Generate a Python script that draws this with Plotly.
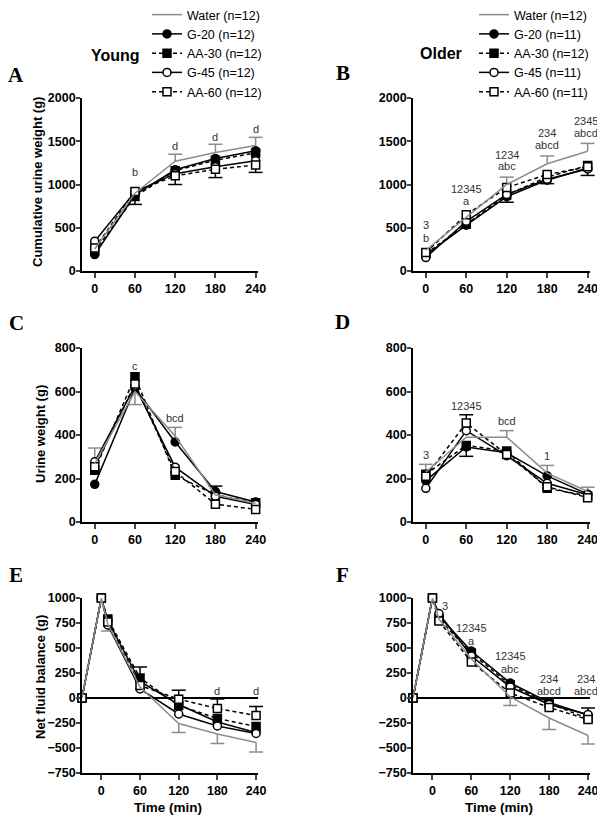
import plotly.graph_objects as go

# the page body keeps its default 8px margin, so the figure sits 8px in
PAGE_W, PAGE_H, BODY = 605, 820, 8
W, H = PAGE_W - BODY, PAGE_H - BODY

# time points (min)
TIME = [0, 60, 120, 180, 240]
TIME_NFB = [-30, 0, 10, 60, 120, 180, 240]

SERIES = ["Water", "G-20", "AA-30", "G-45", "AA-60"]
N_YOUNG = [12, 12, 12, 12, 12]
N_OLDER = [12, 11, 12, 11, 11]

# A - young, cumulative urine weight (g)
A_VALUES = {
    "Water": [255, 900, 1270, 1370, 1450],
    "G-20": [190, 880, 1170, 1300, 1390],
    "AA-30": [230, 860, 1160, 1280, 1365],
    "G-45": [345, 915, 1125, 1205, 1275],
    "AA-60": [265, 920, 1100, 1175, 1225],
}
A_ERR = {  # series: (up, down)
    "Water": ([0, 0, 80, 95, 95], [0, 0, 0, 0, 0]),
    "G-20": ([0, 0, 0, 0, 0], [0, 110, 0, 0, 0]),
    "AA-60": ([0, 0, 0, 0, 0], [0, 0, 100, 95, 85]),
}
A_LABELS = [(60, 1150, "b"), (120, 1440, "d"), (180, 1550, "d"), (240, 1640, "d")]

# B - older, cumulative urine weight (g)
B_VALUES = {
    "Water": [240, 620, 1000, 1240, 1385],
    "G-20": [185, 530, 860, 1050, 1190],
    "AA-30": [200, 540, 880, 1085, 1220],
    "G-45": [155, 575, 885, 1060, 1180],
    "AA-60": [215, 650, 965, 1115, 1205],
}
B_ERR = {
    "Water": ([0, 0, 85, 90, 90], [0, 0, 0, 0, 0]),
    "G-20": ([0, 0, 0, 0, 0], [0, 0, 65, 0, 0]),
    "G-45": ([0, 0, 0, 0, 0], [0, 0, 0, 50, 75]),
}
B_LABELS = [(0, 535, "3"), (0, 378, "b"), (60, 950, "12345"), (60, 805, "a"),
            (120, 1345, "1234"), (120, 1210, "abc"), (180, 1597, "234"),
            (180, 1452, "abcd"), (237, 1737, "2345"), (237, 1595, "abcd")]

# C - young, urine weight (g)
C_VALUES = {
    "Water": [270, 600, 395, 125, 85],
    "G-20": [173, 615, 368, 140, 92],
    "AA-30": [238, 668, 215, 125, 88],
    "G-45": [277, 625, 252, 118, 80],
    "AA-60": [254, 635, 232, 82, 58],
}
C_ERR = {
    "Water": ([70, 0, 40, 0, 0], [0, 60, 0, 0, 0]),
    "G-20": ([0, 0, 0, 25, 0], [0, 0, 0, 0, 0]),
}
C_LABELS = [(60, 719, "c"), (120, 480, "bcd")]

# D - older, urine weight (g)
D_VALUES = {
    "Water": [230, 390, 390, 225, 140],
    "G-20": [190, 345, 318, 212, 128],
    "AA-30": [220, 352, 326, 155, 120],
    "G-45": [155, 420, 305, 178, 125],
    "AA-60": [210, 455, 310, 162, 112],
}
D_ERR = {
    "Water": ([35, 0, 30, 35, 20], [0, 0, 0, 0, 0]),
    "AA-30": ([0, 0, 0, 0, 0], [0, 50, 0, 0, 0]),
    "AA-60": ([0, 38, 0, 0, 0], [0, 0, 0, 0, 0]),
}
D_LABELS = [(0, 308, "3"), (60, 533, "12345"), (120, 463, "bcd"), (180, 305, "1")]

# E - young, net fluid balance (g)
E_VALUES = {
    "Water": [0, 1000, 740, 110, -255, -360, -445],
    "G-20": [0, 1000, 775, 165, -65, -240, -345],
    "AA-30": [0, 1000, 790, 200, -75, -205, -285],
    "G-45": [0, 1000, 730, 90, -160, -280, -355],
    "AA-60": [0, 1000, 760, 125, -12, -105, -175],
}
E_ERR = {
    "Water": ([0, 0, 0, 0, 0, 0, 0], [0, 0, 70, 0, 90, 95, 95]),
    "AA-30": ([0, 0, 0, 110, 0, 0, 0], [0, 0, 0, 0, 0, 0, 0]),
    "AA-60": ([0, 0, 0, 0, 90, 95, 90], [0, 0, 0, 0, 0, 0, 0]),
}
E_LABELS = [(180, 73, "d"), (240, 73, "d")]

# F - older, net fluid balance (g)
F_VALUES = {
    "Water": [0, 1000, 790, 390, 10, -200, -375],
    "G-20": [0, 1000, 820, 470, 150, -45, -170],
    "AA-30": [0, 1000, 790, 450, 130, -55, -205],
    "G-45": [0, 1000, 845, 420, 110, -65, -165],
    "AA-60": [0, 1000, 770, 360, 50, -95, -215],
}
F_ERR = {
    "Water": ([0, 0, 0, 0, 0, 0, 0], [0, 0, 0, 0, 85, 115, 85]),
    "G-45": ([0, 0, 0, 0, 0, 0, 65], [0, 0, 0, 0, 0, 0, 0]),
}
F_LABELS = [(20, 917, "3"), (60, 698, "12345"), (60, 572, "a"),
            (120, 422, "12345"), (120, 290, "abc"), (180, 195, "234"),
            (180, 70, "abcd"), (237, 195, "234"), (237, 70, "abcd")]

FONT = "Liberation Sans, Arial, sans-serif"
SERIF = "Liberation Serif, Times New Roman, serif"
GREY = "#8c8c8c"
DASH = "4px,3px"
STYLE = {
    "Water": dict(color=GREY, dash="solid", symbol=None, fill=None),
    "G-20": dict(color="black", dash="solid", symbol="circle", fill="black"),
    "AA-30": dict(color="black", dash=DASH, symbol="square", fill="black"),
    "G-45": dict(color="black", dash="solid", symbol="circle", fill="white"),
    "AA-60": dict(color="black", dash=DASH, symbol="square", fill="white"),
}

# plot areas in page pixels
COL_X = [(82, 258), (413, 590)]
ROW_Y = [(98, 271), (348, 522), (598, 773)]
URINE_XRANGE = [-19, 243.5]
NFB_XRANGE = [-30, 243]

# (time, values, errors, labels, col, row, yrange, ytick step, legend, n)
PANELS = [
    (TIME, A_VALUES, A_ERR, A_LABELS, 0, 0, [0, 2000], 500, "legend", N_YOUNG),
    (TIME, B_VALUES, B_ERR, B_LABELS, 1, 0, [0, 2000], 500, "legend2", N_OLDER),
    (TIME, C_VALUES, C_ERR, C_LABELS, 0, 1, [0, 800], 200, None, None),
    (TIME, D_VALUES, D_ERR, D_LABELS, 1, 1, [0, 800], 200, None, None),
    (TIME_NFB, E_VALUES, E_ERR, E_LABELS, 0, 2, [-750, 1000], 250, None, None),
    (TIME_NFB, F_VALUES, F_ERR, F_LABELS, 1, 2, [-750, 1000], 250, None, None),
]


def fx(px):
    """page pixel x -> paper fraction"""
    return (px - BODY) / W


def fy(py):
    """page pixel y -> paper fraction"""
    return 1 - (py - BODY) / H


def err_traces(x, y, up, down, color, xr, yr):
    """One-sided error bars drawn as stems + line-ew caps (no cap at the point)"""
    sx, sy, cx, cy = [], [], [], []
    for xi, yi, u, d in zip(x, y, up, down):
        for e in (u, -d):
            if e:
                sx += [xi, xi, None]
                sy += [yi, yi + e, None]
                cx.append(xi)
                cy.append(yi + e)
    stems = go.Scatter(x=sx, y=sy, mode="lines", xaxis=xr, yaxis=yr,
                       line=dict(color=color, width=1.5), showlegend=False,
                       hoverinfo="skip", cliponaxis=False)
    caps = go.Scatter(x=cx, y=cy, mode="markers", xaxis=xr, yaxis=yr,
                      marker=dict(symbol="line-ew", size=10, color=color,
                                  line=dict(color=color, width=1.5)),
                      showlegend=False, hoverinfo="skip", cliponaxis=False)
    return [stems, caps]


fig = go.Figure()
annotations = []
layout = {}

for idx, (t, values, errs, labels, col, row, yrange, step, legend, n) in enumerate(PANELS, start=1):
    suffix = "" if idx == 1 else str(idx)
    xr, yr = "x" + suffix, "y" + suffix

    for name, (up, down) in errs.items():
        fig.add_traces(err_traces(t, values[name], up, down, STYLE[name]["color"], xr, yr))

    # black series first, water on top
    for name in SERIES[1:] + SERIES[:1]:
        st = STYLE[name]
        rank = SERIES.index(name)
        kw = dict(x=t, y=values[name], xaxis=xr, yaxis=yr, cliponaxis=False,
                  line=dict(color=st["color"], width=1.5, dash=st["dash"]),
                  legendrank=rank + 1)
        if st["symbol"]:
            kw["mode"] = "lines+markers"
            kw["marker"] = dict(symbol=st["symbol"], size=8, color=st["fill"],
                                line=dict(color="black", width=1.5))
        else:
            kw["mode"] = "lines"
        if legend:
            kw["name"] = f"{name} (n={n[rank]})"
            kw["legend"] = legend
            kw["showlegend"] = True
        else:
            kw["showlegend"] = False
        fig.add_trace(go.Scatter(**kw))

    x0, x1 = COL_X[col]
    y0, y1 = ROW_Y[row]
    nfb = t is TIME_NFB
    layout["xaxis" + suffix] = dict(
        domain=[fx(x0), fx(x1)], anchor=yr,
        range=NFB_XRANGE if nfb else URINE_XRANGE,
        tickvals=TIME, ticks="outside", ticklen=5, tickwidth=1.5,
        showline=True, linecolor="black", linewidth=1.8,
        showgrid=False, zeroline=False,
        tickfont=dict(family=FONT, size=12.5, color="black", weight="bold"),
    )
    layout["yaxis" + suffix] = dict(
        domain=[fy(y1), fy(y0)], anchor=xr, range=yrange,
        tickvals=list(range(yrange[0], yrange[1] + 1, step)),
        ticks="outside", ticklen=4, tickwidth=1.5, ticklabelstandoff=-2,
        showline=True, linecolor="black", linewidth=1.8,
        showgrid=False, zeroline=nfb, zerolinecolor="black", zerolinewidth=1.5,
        tickfont=dict(family=FONT, size=12.5, color="black", weight="bold"),
    )

    for lx, ly, txt in labels:
        annotations.append(dict(x=lx, y=ly, xref=xr, yref=yr, text=txt, showarrow=False,
                                font=dict(family=FONT, size=11, color="#333333")))


def paper_text(px, py, text, size, family=FONT, angle=0, bold=True):
    return dict(x=fx(px), y=fy(py), xref="paper", yref="paper", text=text,
                showarrow=False, textangle=angle, xanchor="center", yanchor="middle",
                font=dict(family=family, size=size, color="black",
                          weight="bold" if bold else "normal"))


for letter, px, py in [("A", 16, 75), ("B", 343, 73), ("C", 16, 323),
                       ("D", 343, 322), ("E", 16, 575), ("F", 343, 575)]:
    annotations.append(paper_text(px, py, letter, 21, family=SERIF))

annotations += [
    paper_text(115, 55, "Young", 16),
    paper_text(441, 54, "Older", 16),
    paper_text(37, 182, "Cumulative urine weight (g)", 13, angle=-90),
    paper_text(40, 434, "Urine weight (g)", 13, angle=-90),
    paper_text(40, 677, "Net fluid balance (g)", 13, angle=-90),
    paper_text(168, 807, "Time (min)", 13.5),
    paper_text(499, 807, "Time (min)", 13.5),
]

legend_style = dict(yanchor="top", xanchor="left", bgcolor="rgba(0,0,0,0)",
                    font=dict(family=FONT, size=12.5, color="black"),
                    itemwidth=30, tracegroupgap=0, traceorder="normal")

fig.update_layout(
    width=W, height=H,
    margin=dict(l=0, r=0, t=0, b=0, autoexpand=False),
    paper_bgcolor="white", plot_bgcolor="white",
    legend=dict(x=fx(147), y=fy(0), **legend_style),
    legend2=dict(x=fx(474), y=fy(0), **legend_style),
    annotations=annotations,
    **layout,
)

fig.write_html("out.html")
